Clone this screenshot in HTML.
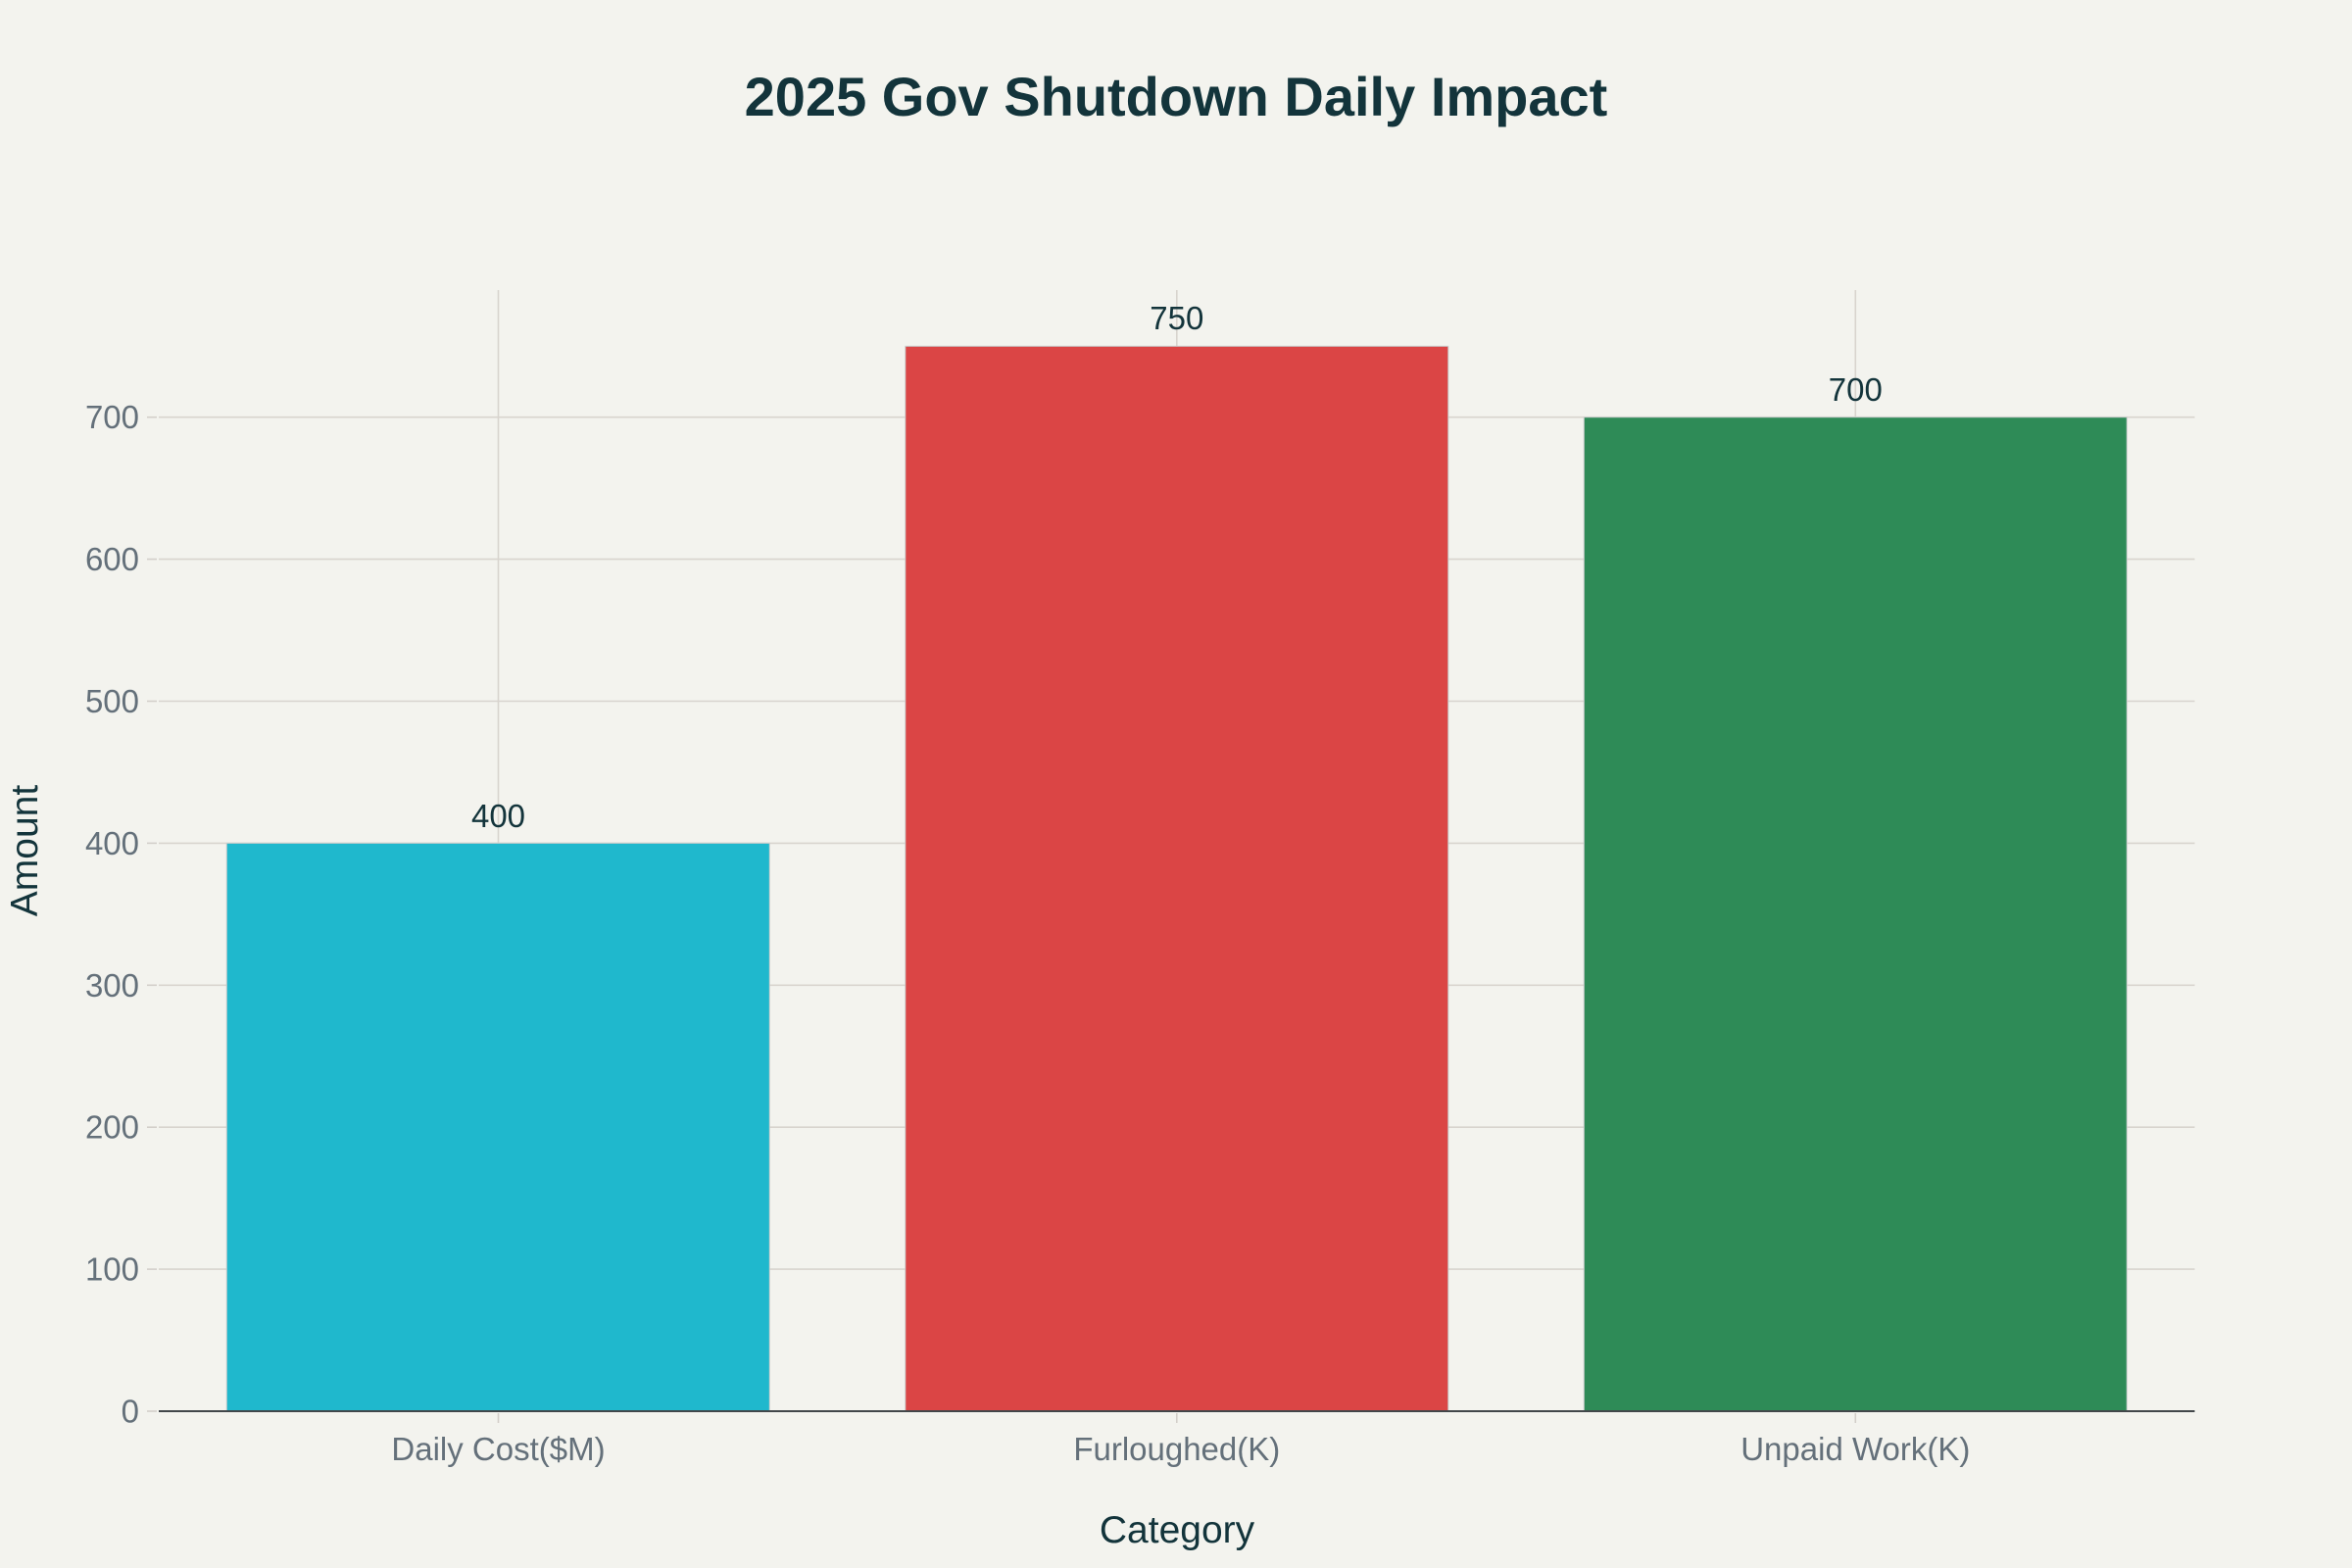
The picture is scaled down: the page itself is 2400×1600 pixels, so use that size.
<!DOCTYPE html>
<html>
<head>
<meta charset="utf-8">
<style>
  html, body { margin: 0; padding: 0; background: #F3F3EE; }
  svg { display: block; }
  text { font-family: "Liberation Sans", "DejaVu Sans", sans-serif; }
</style>
</head>
<body>
<svg width="2400" height="1600" viewBox="0 0 2400 1600" xmlns="http://www.w3.org/2000/svg">
  <rect x="0" y="0" width="2400" height="1600" fill="#F3F3EE"/>

  <!-- horizontal gridlines -->
  <g stroke="#D8D4CE" stroke-width="1.6">
    <line x1="162" y1="1295.1" x2="2239.5" y2="1295.1"/>
    <line x1="162" y1="1150.2" x2="2239.5" y2="1150.2"/>
    <line x1="162" y1="1005.3" x2="2239.5" y2="1005.3"/>
    <line x1="162" y1="860.4" x2="2239.5" y2="860.4"/>
    <line x1="162" y1="715.5" x2="2239.5" y2="715.5"/>
    <line x1="162" y1="570.6" x2="2239.5" y2="570.6"/>
    <line x1="162" y1="425.7" x2="2239.5" y2="425.7"/>
  </g>
  <!-- vertical gridlines -->
  <g stroke="#D8D4CE" stroke-width="1.6">
    <line x1="508.5" y1="296" x2="508.5" y2="1440"/>
    <line x1="1200.8" y1="296" x2="1200.8" y2="1440"/>
    <line x1="1893.3" y1="296" x2="1893.3" y2="1440"/>
  </g>

  <!-- y tick marks -->
  <g stroke="#D3CFCA" stroke-width="1.6">
    <line x1="150" y1="1440" x2="160" y2="1440"/>
    <line x1="150" y1="1295.1" x2="160" y2="1295.1"/>
    <line x1="150" y1="1150.2" x2="160" y2="1150.2"/>
    <line x1="150" y1="1005.3" x2="160" y2="1005.3"/>
    <line x1="150" y1="860.4" x2="160" y2="860.4"/>
    <line x1="150" y1="715.5" x2="160" y2="715.5"/>
    <line x1="150" y1="570.6" x2="160" y2="570.6"/>
    <line x1="150" y1="425.7" x2="160" y2="425.7"/>
  </g>

  <!-- bars -->
  <rect x="231.3" y="860.4" width="554" height="579.6" fill="#1FB8CD" stroke="#C9CCCC" stroke-width="1"/>
  <rect x="923.8" y="353.3" width="554" height="1086.7" fill="#DB4545" stroke="#C9CCCC" stroke-width="1"/>
  <rect x="1616.3" y="425.7" width="554" height="1014.3" fill="#2E8B57" stroke="#C9CCCC" stroke-width="1"/>

  <!-- zero line -->
  <line x1="162" y1="1440" x2="2239.5" y2="1440" stroke="#42474A" stroke-width="2"/>

  <!-- x tick marks -->
  <g stroke="#D3CFCA" stroke-width="1.6">
    <line x1="508.5" y1="1442" x2="508.5" y2="1452"/>
    <line x1="1200.8" y1="1442" x2="1200.8" y2="1452"/>
    <line x1="1893.3" y1="1442" x2="1893.3" y2="1452"/>
  </g>

  <!-- y tick labels -->
  <g font-size="33" fill="#64707A" text-anchor="end">
    <text x="142" y="1451.5">0</text>
    <text x="142" y="1306.6">100</text>
    <text x="142" y="1161.7">200</text>
    <text x="142" y="1016.8">300</text>
    <text x="142" y="871.9">400</text>
    <text x="142" y="727">500</text>
    <text x="142" y="582.1">600</text>
    <text x="142" y="437.2">700</text>
  </g>

  <!-- x tick labels -->
  <g font-size="33" fill="#64707A" text-anchor="middle">
    <text x="508.5" y="1490">Daily Cost($M)</text>
    <text x="1200.8" y="1490">Furloughed(K)</text>
    <text x="1893.3" y="1490">Unpaid Work(K)</text>
  </g>

  <!-- data labels -->
  <g font-size="33" fill="#13343B" text-anchor="middle">
    <text x="508.5" y="844">400</text>
    <text x="1200.8" y="336">750</text>
    <text x="1893.3" y="409">700</text>
  </g>

  <!-- title -->
  <text x="1200" y="118" font-size="56" font-weight="bold" fill="#13343B" text-anchor="middle">2025 Gov Shutdown Daily Impact</text>

  <!-- axis titles -->
  <text x="1201" y="1574" font-size="39" fill="#13343B" text-anchor="middle">Category</text>
  <text transform="translate(38,868) rotate(-90)" font-size="39" fill="#13343B" text-anchor="middle">Amount</text>
</svg>
</body>
</html>
